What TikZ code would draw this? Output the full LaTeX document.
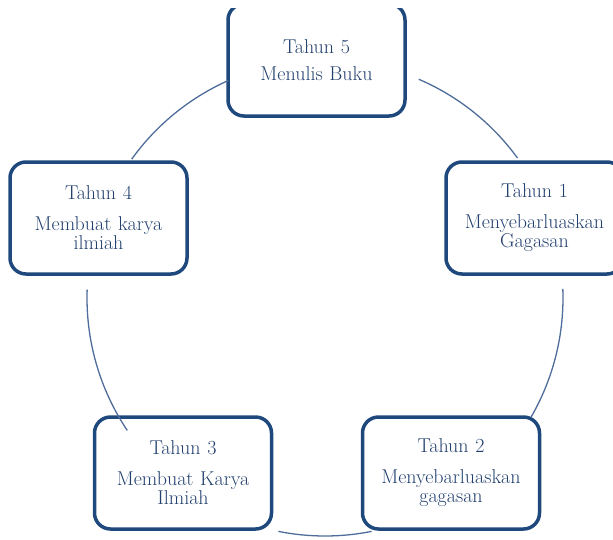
\documentclass[tikz,border=0pt]{standalone}
\usepackage{tikz}
\usetikzlibrary{shapes,positioning}

\definecolor{boxblue}{HTML}{1F497D}
\definecolor{ringblue}{HTML}{4F6D9A}
\definecolor{textblue}{HTML}{22406E}

\begin{document}
\begin{tikzpicture}[x=1pt, y=-1pt,
    yearbox/.style={draw=boxblue, line width=3.5pt, rounded corners=16pt,
      minimum width=177pt, minimum height=112pt, inner sep=0pt,
      text width=172pt, align=center, text=textblue,
      font=\fontsize{20}{19}\selectfont},
    ringarc/.style={draw=ringblue, line width=1.3pt}]

    \useasboundingbox (0,0) rectangle (613,539);
    \clip (0,8) rectangle (613,539);

    % Draw the five years
    \node[yearbox] (y5) at (316.5,60) {Tahun 5\\[8pt]Menulis Buku};
    \node[yearbox] (y1) at (534.5,218) {Tahun 1\\[12pt]Menyebarluaskan\\Gagasan};
    \node[yearbox] (y2) at (451,473) {Tahun 2\\[12pt]Menyebarluaskan\\gagasan};
    \node[yearbox] (y3) at (183,473) {Tahun 3\\[12pt]Membuat Karya\\Ilmiah};
    \node[yearbox] (y4) at (98.5,218) {Tahun 4\\[12pt]Membuat karya\\ilmiah};

    % Draw the ring between the years
    \coordinate (ring) at (325,298);
    \foreach \a/\b in {-66.8/-36, -2.2/30, 78.7/101.3, 146.2/182, -144.3/-114}
      \draw[ringarc] ([shift={(\a:238)}]ring) arc[start angle=\a, end angle=\b, radius=238];

\end{tikzpicture}
\end{document}
